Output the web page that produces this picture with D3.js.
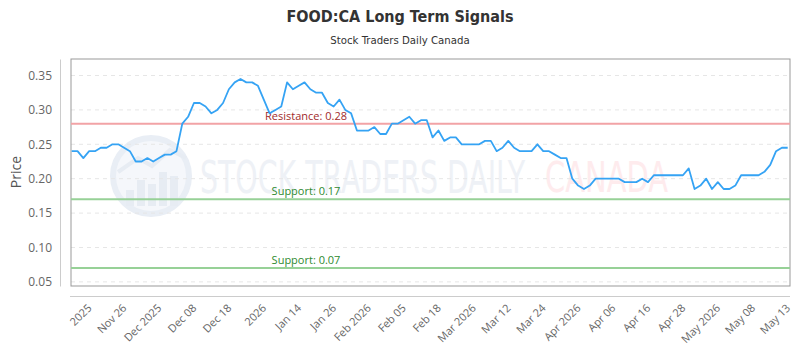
<!DOCTYPE html>
<html>
<head>
<meta charset="utf-8">
<script src="https://cdn.jsdelivr.net/npm/d3@7"></script>
<style>
  body { margin: 0; background: #fff; }
  svg { display: block; }
</style>
</head>
<body>
<svg id="chart" width="800" height="350"></svg>
<script>
// FOOD:CA long term signals - price line with support / resistance levels

var prices = [
  0.24, 0.24, 0.23, 0.24, 0.24, 0.245, 0.245, 0.25, 0.25, 0.245,
  0.24, 0.225, 0.225, 0.23, 0.225, 0.23, 0.235, 0.235, 0.24, 0.28,
  0.29, 0.31, 0.31, 0.305, 0.295, 0.30, 0.31, 0.33, 0.34, 0.345,
  0.34, 0.34, 0.335, 0.315, 0.295, 0.30, 0.305, 0.34, 0.33, 0.335,
  0.34, 0.33, 0.325, 0.325, 0.31, 0.305, 0.315, 0.30, 0.295, 0.27,
  0.27, 0.27, 0.275, 0.265, 0.265, 0.28, 0.28, 0.285, 0.29, 0.28,
  0.285, 0.285, 0.26, 0.27, 0.255, 0.26, 0.26, 0.25, 0.25, 0.25,
  0.25, 0.255, 0.255, 0.24, 0.245, 0.255, 0.245, 0.24, 0.24, 0.24,
  0.25, 0.24, 0.24, 0.235, 0.23, 0.23, 0.20, 0.19, 0.185, 0.19,
  0.20, 0.20, 0.20, 0.20, 0.20, 0.195, 0.195, 0.195, 0.20, 0.195,
  0.205, 0.205, 0.205, 0.205, 0.205, 0.205, 0.215, 0.185, 0.19, 0.20,
  0.185, 0.195, 0.185, 0.185, 0.19, 0.205, 0.205, 0.205, 0.205, 0.21,
  0.22, 0.24, 0.245, 0.245
];

var xTickLabels = ["2025", "Nov 26", "Dec 2025", "Dec 08", "Dec 18", "2026", "Jan 14",
  "Jan 26", "Feb 2026", "Feb 05", "Feb 18", "Mar 2026", "Mar 12", "Mar 24", "Apr 2026",
  "Apr 06", "Apr 16", "Apr 28", "May 2026", "May 08", "May 13"];
// index of the price point each label sits on
var xTickIndex = [3, 9, 15, 21, 27, 33, 39, 45, 51, 57, 63, 69, 75, 81, 87, 93, 99, 105, 111, 117, 123];

var yTicks = [0.05, 0.10, 0.15, 0.20, 0.25, 0.30, 0.35];

var resistance = [0.28];
var support = [0.17, 0.07];

var svg = d3.select("#chart");

var plot = {left: 71, right: 790, top: 59, bottom: 286};

var x = d3.scaleLinear().domain([0, prices.length - 1]).range([71.7, 787.7]);
var y = d3.scaleLinear().domain([0.044, 0.374]).range([plot.bottom, plot.top]);

// titles
svg.append("text")
  .attr("x", 400).attr("y", 22)
  .attr("text-anchor", "middle")
  .style("font", "bold 16px 'DejaVu Sans Condensed', sans-serif")
  .style("fill", "#333")
  .text("FOOD:CA Long Term Signals");

svg.append("text")
  .attr("x", 400).attr("y", 44)
  .attr("text-anchor", "middle")
  .style("font", "11.3px 'DejaVu Sans Condensed', sans-serif")
  .style("fill", "#333")
  .text("Stock Traders Daily Canada");

// watermark
var wm = svg.append("g").attr("class", "watermark");
wm.append("circle")
  .attr("cx", 151).attr("cy", 176).attr("r", 38)
  .style("fill", "#f5f7fb")
  .style("stroke", "#e9eef5")
  .style("stroke-width", 6);
[[126, 190, 8], [137, 180, 8], [148, 184, 8], [159, 172, 8], [170, 176, 8]].forEach(function(b) {
  wm.append("rect")
    .attr("x", b[0]).attr("y", b[1]).attr("width", b[2]).attr("height", 206 - b[1])
    .style("fill", "#e7ecf3");
});
wm.append("path")
  .attr("d", "M118,172 L138,158 L152,166 L170,150 L186,158")
  .style("fill", "none").style("stroke", "#e7ecf3").style("stroke-width", 4);

wm.append("text")
  .attr("x", 200).attr("y", 193)
  .attr("textLength", 325).attr("lengthAdjust", "spacingAndGlyphs")
  .style("font", "44px 'DejaVu Sans Condensed', sans-serif")
  .style("fill", "#eef1f6")
  .text("STOCK TRADERS DAILY");
wm.append("text")
  .attr("x", 545).attr("y", 192)
  .attr("textLength", 123).attr("lengthAdjust", "spacingAndGlyphs")
  .style("font", "42px 'DejaVu Sans', sans-serif")
  .style("fill", "#feebed")
  .text("CANADA");

// grid lines
svg.append("g").selectAll("line.grid")
  .data(yTicks)
  .enter().append("line")
    .attr("class", "grid")
    .attr("x1", plot.left).attr("x2", plot.right)
    .attr("y1", function(d) { return y(d); })
    .attr("y2", function(d) { return y(d); })
    .style("stroke", "#e6e6e6")
    .style("stroke-dasharray", "4,4");

// plot frame
svg.append("rect")
  .attr("x", plot.left).attr("y", plot.top)
  .attr("width", plot.right - plot.left).attr("height", plot.bottom - plot.top)
  .style("fill", "none").style("stroke", "#999").style("stroke-width", 1);

// y axis (offset to the left of the frame)
var yAxis = svg.append("g")
  .attr("transform", "translate(60,0)")
  .call(d3.axisLeft(y).tickValues(yTicks).tickSize(0).tickPadding(8)
    .tickFormat(d3.format(".2f")));
yAxis.select(".domain").style("stroke", "#ccc");
yAxis.selectAll("text")
  .style("font", "12px 'Open Sans', sans-serif")
  .style("fill", "#666");

svg.append("text")
  .attr("transform", "translate(21,172) rotate(-90)")
  .attr("text-anchor", "middle")
  .style("font", "14px 'Open Sans', sans-serif")
  .style("fill", "#555")
  .text("Price");

// x axis (offset below the frame)
var xAxis = svg.append("g")
  .attr("transform", "translate(0,296)")
  .call(d3.axisBottom(x).tickValues(xTickIndex).tickSize(0)
    .tickFormat(function(d, i) { return xTickLabels[i]; }));
xAxis.select(".domain").attr("d", "M70,0.5H790").style("stroke", "#ccc");
xAxis.selectAll("text")
  .attr("y", 0).attr("dy", "0.35em")
  .attr("transform", "translate(0,10) rotate(-45)")
  .style("text-anchor", "end")
  .style("font", "11px 'Open Sans', sans-serif")
  .style("fill", "#666");

// level lines
function drawLevels(levels, lineColor, textColor, name) {
  var g = svg.append("g");
  g.selectAll("line")
    .data(levels)
    .enter().append("line")
      .attr("x1", plot.left).attr("x2", plot.right)
      .attr("y1", function(d) { return y(d); })
      .attr("y2", function(d) { return y(d); })
      .style("stroke", lineColor)
      .style("stroke-width", 2);
  g.selectAll("text")
    .data(levels)
    .enter().append("text")
      .attr("x", 306)
      .attr("y", function(d) { return y(d) - 4; })
      .attr("text-anchor", "middle")
      .style("font", "11px 'Open Sans', sans-serif")
      .style("fill", textColor)
      .text(function(d) { return name + ": " + d.toFixed(2); });
}
drawLevels(resistance, "#f2a3a6", "#a12a2a", "Resistance");
drawLevels(support, "#97d197", "#2f8a2f", "Support");

// price line
var line = d3.line()
  .x(function(d, i) { return x(i); })
  .y(function(d) { return y(d); });

svg.append("path")
  .datum(prices)
  .attr("d", line)
  .style("fill", "none")
  .style("stroke", "#35a3f4")
  .style("stroke-width", 1.8)
  .style("stroke-linejoin", "round");
</script>
</body>
</html>
